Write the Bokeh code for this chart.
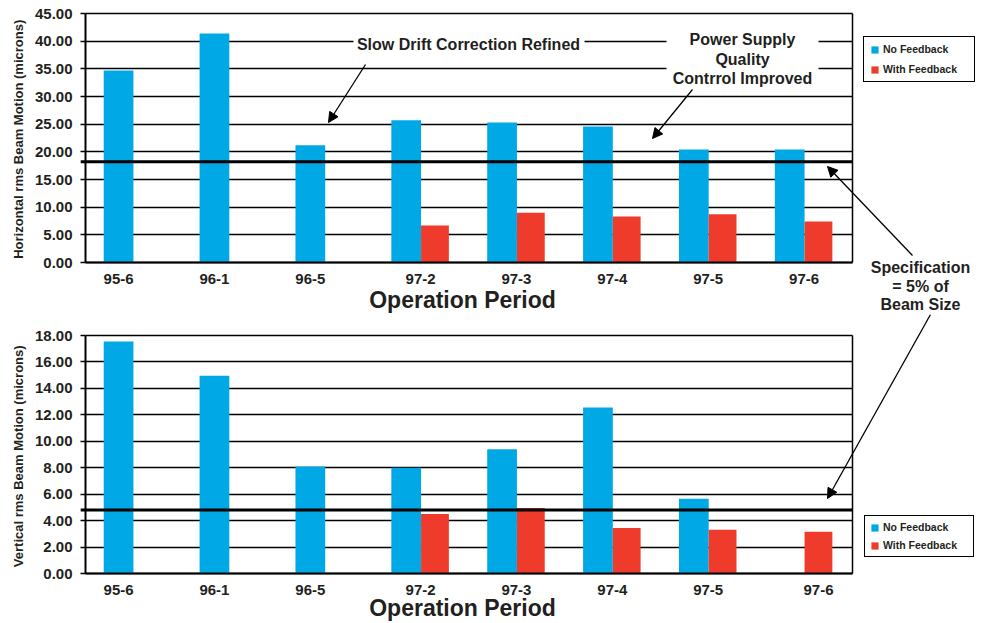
import math
from bokeh.plotting import figure
from bokeh.models import (Range1d, FixedTicker, NumeralTickFormatter, LinearAxis, Label, Grid,
                          Arrow, NormalHead, BoxAnnotation, Legend, LegendItem, ColumnDataSource)
from bokeh.layouts import column
from bokeh.embed import file_html
from bokeh.resources import INLINE

NAN = float("nan")

# ---------------- data ----------------
periods = ["95-6", "96-1", "96-5", "97-2", "97-3", "97-4", "97-5", "97-6"]
h_no_feedback = [34.7, 41.4, 21.2, 25.7, 25.3, 24.6, 20.4, 20.4]
h_with_feedback = [NAN, NAN, NAN, 6.7, 9.0, 8.3, 8.7, 7.4]
v_no_feedback = [17.55, 14.95, 8.1, 8.0, 9.4, 12.55, 5.65, NAN]
v_with_feedback = [NAN, NAN, NAN, 4.5, 4.95, 3.45, 3.3, 3.15]
h_spec = 18.2
v_spec = 4.8
h_ticks = [0, 5, 10, 15, 20, 25, 30, 35, 40, 45]
v_ticks = [0, 2, 4, 6, 8, 10, 12, 14, 16, 18]
series_names = ["No Feedback", "With Feedback"]

# ---------------- style ----------------
BLUE = "#00A9E6"
RED = "#EE3B2C"
TXT = "#231F20"
FONT = "Liberation Sans"
FIG_W = 983
X_LEFT_PX, X_RIGHT_PX = 85, 852      # page x of the category span edges
BLUE_OFF, BLUE_W = -0.155, 0.31
RED_OFF, RED_W = 0.145, 0.29


class Geo:
    """Maps page pixel positions (used for annotation placement) to data coords."""
    def __init__(self, fig_top, fig_h, ymax, ymax_px, y0_px):
        self.fig_top, self.fig_h = fig_top, fig_h
        self.ymax, self.ymax_px, self.y0_px = ymax, ymax_px, y0_px
        self.sx = (X_RIGHT_PX - X_LEFT_PX) / len(periods)

    def x(self, px):
        return (px - X_LEFT_PX) / self.sx

    def y(self, py):
        return (self.y0_px - py) * self.ymax / (self.y0_px - self.ymax_px)

    def x_range(self):
        return Range1d(self.x(0), self.x(FIG_W))

    def y_range(self):
        return Range1d(self.y(self.fig_top + self.fig_h), self.y(self.fig_top))


def present(v):
    return v is not None and not math.isnan(v)


def make_chart(geo, no_fb, with_fb, ymax, ticks, spec, legend_loc, legend_pad, legend_spacing):
    n = len(periods)
    centers = [i + 0.5 for i in range(n)]
    src = ColumnDataSource(dict(xb=[c + BLUE_OFF for c in centers],
                                xr=[c + RED_OFF for c in centers],
                                no_fb=no_fb, with_fb=with_fb))
    p = figure(x_range=geo.x_range(), y_range=geo.y_range(),
               width=FIG_W, height=geo.fig_h, output_backend="svg", toolbar_location=None,
               min_border_left=0, min_border_right=0, min_border_top=0, min_border_bottom=0,
               x_axis_type=None, y_axis_type=None,
               background_fill_color="white", border_fill_color="white")
    p.outline_line_color = None

    # horizontal grid, limited to the chart box
    if "cross_bounds" in Grid.properties():
        p.add_layout(Grid(dimension=1, ticker=FixedTicker(ticks=ticks), bounds=(0, ymax),
                          cross_bounds=(0, n), grid_line_color="black",
                          grid_line_width=1.3, grid_line_alpha=1))
    else:
        p.segment(x0=[0] * len(ticks), x1=[n] * len(ticks), y0=ticks, y1=ticks,
                  line_color="black", line_width=1.3, level="underlay")

    r1 = p.vbar(x="xb", top="no_fb", width=BLUE_W, source=src, fill_color=BLUE, line_color=None)
    r2 = p.vbar(x="xr", top="with_fb", width=RED_W, source=src, fill_color=RED, line_color=None)

    # specification line
    p.segment(x0=[-0.05], x1=[n], y0=[spec], y1=[spec], line_color="black", line_width=3)

    # left value axis
    ya = LinearAxis(fixed_location=0, bounds=(0, ymax), ticker=FixedTicker(ticks=ticks),
                    formatter=NumeralTickFormatter(format="0.00"))
    ya.axis_line_color = "black"
    ya.axis_line_width = 2
    ya.major_tick_out = 5
    ya.major_tick_in = 0
    ya.major_tick_line_color = "black"
    ya.major_tick_line_width = 1.3
    ya.minor_tick_line_color = None
    ya.major_label_standoff = 8
    ya.major_label_text_font = FONT
    ya.major_label_text_font_style = "bold"
    ya.major_label_text_font_size = "15px"
    ya.major_label_text_color = TXT
    p.add_layout(ya, "left")

    # right border of the chart box
    yr = LinearAxis(fixed_location=n, bounds=(0, ymax), ticker=FixedTicker(ticks=[]))
    yr.axis_line_color = "black"
    yr.axis_line_width = 1.5
    yr.major_tick_line_color = None
    yr.minor_tick_line_color = None
    yr.major_label_text_font_size = "0px"
    p.add_layout(yr, "right")

    # category axis: each label sits under the bars that are present
    label_pos = []
    for c, a, b in zip(centers, no_fb, with_fb):
        xs = []
        if present(a):
            xs.append(c + BLUE_OFF)
        if present(b):
            xs.append(c + RED_OFF)
        label_pos.append(round(sum(xs) / len(xs), 4) if xs else c)
    xa = LinearAxis(fixed_location=0, bounds=(0, n), ticker=FixedTicker(ticks=label_pos),
                    major_label_overrides={pos: lab for pos, lab in zip(label_pos, periods)})
    xa.axis_line_color = "black"
    xa.axis_line_width = 2
    xa.major_tick_line_color = None
    xa.minor_tick_line_color = None
    xa.major_label_standoff = 5
    xa.major_label_text_font = FONT
    xa.major_label_text_font_style = "bold"
    xa.major_label_text_font_size = "15px"
    xa.major_label_text_color = TXT
    p.add_layout(xa, "below")

    legend = Legend(items=[LegendItem(label=series_names[0], renderers=[r1]),
                           LegendItem(label=series_names[1], renderers=[r2])],
                    location=legend_loc, orientation="vertical",
                    glyph_width=9, glyph_height=9, label_height=12, label_width=85,
                    label_standoff=4, spacing=legend_spacing, padding=legend_pad, margin=0,
                    label_text_font=FONT, label_text_font_size="10.5px",
                    label_text_font_style="bold", label_text_color=TXT,
                    border_line_color="black", border_line_width=1.5, border_line_alpha=1,
                    background_fill_color="white", background_fill_alpha=1)
    p.add_layout(legend)
    return p


def label(p, x, y, text, size="16px", angle=0.0):
    p.add_layout(Label(x=x, y=y, text=text, text_align="center", text_baseline="middle",
                       text_font=FONT, text_font_style="bold", text_font_size=size,
                       text_color=TXT, angle=angle))


def arrow(p, xs, ys, xe, ye):
    p.add_layout(Arrow(end=NormalHead(size=10, fill_color="black", line_color="black"),
                       x_start=xs, y_start=ys, x_end=xe, y_end=ye,
                       line_color="black", line_width=1.3))


def gap(p, g, l, r, t, b):
    p.add_layout(BoxAnnotation(left=g.x(l), right=g.x(r), top=g.y(t), bottom=g.y(b),
                               fill_color="white", fill_alpha=1, line_color=None))


TOP_H, BOTTOM_H = 314, 308

# ---------------- top chart ----------------
gt = Geo(fig_top=0, fig_h=TOP_H, ymax=45, ymax_px=13, y0_px=262)
top = make_chart(gt, h_no_feedback, h_with_feedback, 45, h_ticks, h_spec,
                 (863, TOP_H - 82), 6, 8)
gap(top, gt, 353, 584, 36, 52)
gap(top, gt, 666, 818, 29, 90)
label(top, gt.x(468), gt.y(44), "Slow Drift Correction Refined")
label(top, gt.x(742), gt.y(39), "Power Supply")
label(top, gt.x(742), gt.y(59), "Quality")
label(top, gt.x(742), gt.y(78), "Contrrol Improved")
arrow(top, gt.x(365), gt.y(64), gt.x(328), gt.y(122))
arrow(top, gt.x(692), gt.y(89), gt.x(652), gt.y(138))
arrow(top, gt.x(912), gt.y(255), gt.x(827), gt.y(166))
label(top, gt.x(920), gt.y(267), "Specification")
label(top, gt.x(920), gt.y(286), "= 5% of")
label(top, gt.x(920), gt.y(304), "Beam Size")
label(top, gt.x(18), gt.y(137), "Horizontal  rms Beam Motion (microns)", "13px", math.pi / 2)
label(top, gt.x(462), gt.y(299), "Operation Period", "23px")

# ---------------- bottom chart ----------------
gb = Geo(fig_top=TOP_H, fig_h=BOTTOM_H, ymax=18, ymax_px=335, y0_px=573)
bottom = make_chart(gb, v_no_feedback, v_with_feedback, 18, v_ticks, v_spec,
                    (864, TOP_H + BOTTOM_H - 557), 5, 6)
arrow(bottom, gb.x(930), gb.y(TOP_H), gb.x(827), gb.y(498))
label(bottom, gb.x(18), gb.y(454), "Vertical  rms Beam Motion (microns)", "13px", math.pi / 2)
label(bottom, gb.x(462), gb.y(607), "Operation Period", "23px")

page = column(top, bottom, spacing=0)
open("out.html", "w").write(file_html(page, INLINE))
